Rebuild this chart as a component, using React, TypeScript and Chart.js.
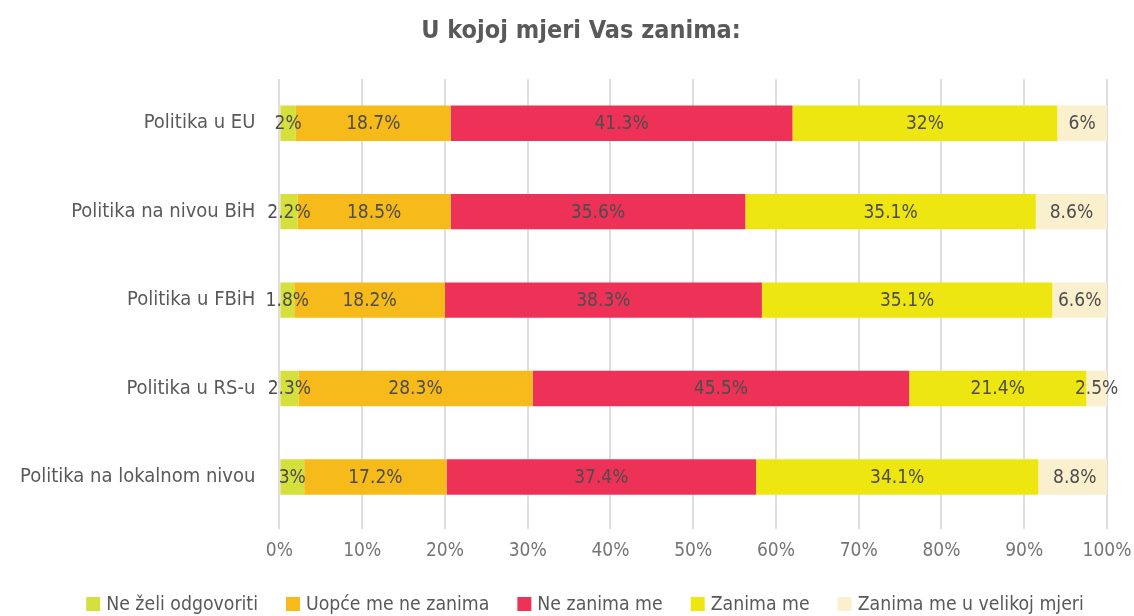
import React, { useEffect, useRef } from "react";
import { Chart, registerables } from "chart.js";

Chart.register(...registerables);

const categories = [
  "Politika u EU",
  "Politika na nivou BiH",
  "Politika u FBiH",
  "Politika u RS-u",
  "Politika na lokalnom nivou",
];
const seriesNames = [
  "Ne želi odgovoriti",
  "Uopće me ne zanima",
  "Ne zanima me",
  "Zanima me",
  "Zanima me u velikoj mjeri",
];
const neZeli = [2, 2.2, 1.8, 2.3, 3];
const uopce = [18.7, 18.5, 18.2, 28.3, 17.2];
const neZanima = [41.3, 35.6, 38.3, 45.5, 37.4];
const zanima = [32, 35.1, 35.1, 21.4, 34.1];
const velikoj = [6, 8.6, 6.6, 2.5, 8.8];
const xTicks = [0, 10, 20, 30, 40, 50, 60, 70, 80, 90, 100];
const colors = ["#D5E03C", "#F6BB1A", "#EE3157", "#EEE611", "#FAF0CE"];
const titleText = "U kojoj mjeri Vas zanima:";

const FONT = "'Liberation Sans Narrow', 'DejaVu Sans Condensed', sans-serif";
const TITLE_PAD_TOP = 16;
const TITLE_SIZE = 25;

const labelPlugin = {
  id: "segLabels",
  afterDatasetsDraw(chart: any) {
    const ctx = chart.ctx;
    ctx.save();
    ctx.font = `19px ${FONT}`;
    ctx.fillStyle = "#4d4d4d";
    ctx.textAlign = "center";
    ctx.textBaseline = "middle";
    chart.data.datasets.forEach((ds: any, i: number) => {
      const meta = chart.getDatasetMeta(i);
      meta.data.forEach((el: any, j: number) => {
        const v = ds.data[j];
        const x = (el.x + el.base) / 2;
        ctx.fillText(`${v}%`, x, el.y + 1);
      });
    });
    ctx.restore();
  },
};

const titlePlugin = {
  id: "offsetTitle",
  afterDraw(chart: any) {
    const ctx = chart.ctx;
    const tb = chart.titleBlock;
    const y = (tb ? tb.top : 0) + TITLE_PAD_TOP + (TITLE_SIZE * 1.2) / 2;
    ctx.save();
    ctx.font = `bold ${TITLE_SIZE}px ${FONT}`;
    ctx.fillStyle = "#595959";
    ctx.textAlign = "center";
    ctx.textBaseline = "middle";
    ctx.fillText(titleText, 581, y);
    ctx.restore();
  },
};

const legendPlugin = {
  id: "customLegend",
  afterDraw(chart: any) {
    const ctx = chart.ctx;
    ctx.save();
    ctx.font = `19.3px ${FONT}`;
    const box = 14;
    const gap = 6;
    const itemGap = 28;
    const widths = chart.data.datasets.map((d: any) => ctx.measureText(d.label).width);
    const total =
      widths.reduce((a: number, w: number) => a + box + gap + w, 0) +
      itemGap * (widths.length - 1);
    let x = 585 - total / 2;
    const y = 604;
    ctx.textBaseline = "middle";
    ctx.textAlign = "left";
    chart.data.datasets.forEach((d: any, i: number) => {
      ctx.fillStyle = d.backgroundColor;
      ctx.fillRect(x, y - box / 2, box, box);
      ctx.fillStyle = "#595959";
      ctx.fillText(d.label, x + box + gap, y + 1);
      x += box + gap + widths[i] + itemGap;
    });
    ctx.restore();
  },
};

export default function App() {
  const ref = useRef<HTMLCanvasElement>(null);
  useEffect(() => {
    document.body.style.margin = "0";
    const data = [neZeli, uopce, neZanima, zanima, velikoj];
    const chart = new Chart(ref.current!, {
      type: "bar",
      data: {
        labels: categories,
        datasets: seriesNames.map((n, i) => ({
          label: n,
          data: data[i],
          backgroundColor: colors[i],
          borderWidth: 0,
          barPercentage: 0.8,
          categoryPercentage: 0.5,
        })),
      },
      options: {
        indexAxis: "y",
        responsive: false,
        animation: false,
        layout: { padding: { left: -4, right: 27, top: 0, bottom: 44 } },
        scales: {
          x: {
            stacked: true,
            min: 0,
            max: 100,
            afterBuildTicks: (axis: any) => {
              axis.ticks = xTicks.map((v) => ({ value: v }));
            },
            afterFit: (axis: any) => {
              axis.paddingRight = 0;
              axis.paddingLeft = 0;
            },
            ticks: {
              callback: (v: any) => `${v}%`,
              color: "#757575",
              font: { family: FONT, size: 19 },
              padding: 10,
            },
            grid: { color: "#dedede", lineWidth: 2, tickLength: 8, drawTicks: true },
            border: { display: false },
          },
          y: {
            stacked: true,
            ticks: {
              color: "#595959",
              font: { family: FONT, size: 20 },
              padding: 24,
            },
            grid: { display: false, drawTicks: false },
            border: { display: false },
          },
        },
        plugins: {
          title: {
            display: true,
            text: titleText,
            color: "rgba(0,0,0,0)",
            font: { family: FONT, size: TITLE_SIZE, weight: "bold" },
            padding: { top: TITLE_PAD_TOP, bottom: 33 },
          },
          legend: { display: false },
          tooltip: { enabled: false },
        },
      },
      plugins: [labelPlugin, titlePlugin, legendPlugin],
    });
    return () => chart.destroy();
  }, []);
  return (
    <div style={{ width: 1134, height: 616 }}>
      <canvas ref={ref} width={1134} height={616} />
    </div>
  );
}
